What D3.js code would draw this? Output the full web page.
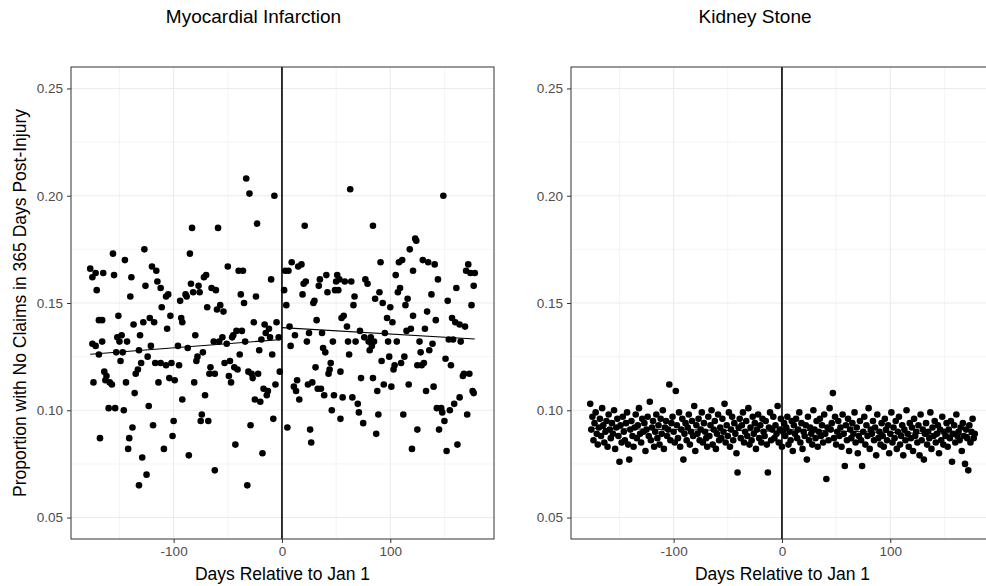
<!DOCTYPE html>
<html lang="en">
<head>
  <meta charset="UTF-8">
  <title>No claims after injury</title>
</head>
<style>
  body {
    margin: 0;
    background: #fff;
  }
  svg {
    display: block;
    font-family: "Liberation Sans", Arial, sans-serif;
  }
  .grid-major { stroke: #ebebeb; stroke-width: 1.1; }
  .grid-minor { stroke: #ebebeb; stroke-width: 0.55; }
  .axis .domain { display: none; }
  .axis line { stroke: #333; }
  .axis text { fill: #4d4d4d; font-size: 13.5px; font-family: "Liberation Sans", Arial, sans-serif; }
</style>
<body>
<svg width="986" height="586"></svg>
<script src="https://cdn.jsdelivr.net/npm/d3@7"></script>
<script>
  // myocardial infarction: day relative to Jan 1, share with no claims
  const miDays = [-156,-127,-145,-177,-172,-175,-165,-155,-139,-120,-116,-115,-126,-112,-171,-140,-107,-105,-94,-111,
    -151,-103,-169,-166,-137,-128,-122,-118,-106,-93,-92,-175,-172,-166,-152,-148,-150,-143,-131,-169,
    -153,-147,-132,-121,-96,-149,-130,-124,-117,-112,-107,-102,-95,-133,-135,-164,-162,-163,-159,-157,
    -174,-144,-114,-104,-99,-136,-92,-160,-154,-146,-123,-100,-119,-138,-168,-141,-101,-142,-109,-129,
    -125,-132,-33,-30,-7,-83,-59,-23,-85,-50,-40,-36,-10,-70,-72,-84,-77,-65,-61,-82,
    -76,-89,-88,-38,-24,-35,-69,-57,-60,-54,-26,-16,-12,-5,-80,-63,-58,-55,-45,-42,
    -37,-46,-51,-34,-19,-15,-11,-3,-87,-73,-39,-21,-9,-78,-79,-53,-48,-66,-67,-62,
    -44,-41,-49,-31,-28,-27,-22,-2,-47,-81,-6,-17,-13,-14,-71,-25,-20,-74,-75,-68,
    -29,-8,-43,-86,-18,-62,-32,63,21,84,9,3,6,18,15,91,20,22,2,19,
    35,41,34,51,50,53,58,64,42,49,52,77,79,90,86,67,30,29,4,66,
    93,57,55,32,60,7,72,12,25,37,76,80,82,85,83,81,8,23,47,61,
    68,38,40,62,92,45,31,44,43,54,14,11,13,24,28,33,36,16,39,48,
    56,65,70,73,84,94,88,46,54,71,75,89,87,5,26,27,149,123,124,118,
    108,111,130,135,141,105,121,144,172,170,174,178,109,107,161,177,138,116,114,100,
    153,175,134,121,97,102,142,157,160,164,169,119,115,132,95,98,106,127,139,154,
    158,165,128,136,99,113,110,104,103,125,129,131,151,156,167,168,173,101,117,133,
    140,176,177,164,159,143,147,148,155,112,171,150,125,145,120,152,162];
  const miRate = [0.173,0.175,0.170,0.166,0.164,0.162,0.164,0.163,0.162,0.167,0.165,0.160,0.158,0.157,0.156,0.153,0.153,0.154,0.151,0.148,
    0.144,0.144,0.142,0.142,0.140,0.141,0.143,0.141,0.138,0.143,0.141,0.131,0.130,0.132,0.134,0.135,0.132,0.132,0.135,0.126,
    0.127,0.127,0.128,0.130,0.130,0.123,0.122,0.125,0.122,0.122,0.121,0.122,0.121,0.119,0.117,0.118,0.116,0.114,0.113,0.112,
    0.113,0.113,0.113,0.115,0.114,0.108,0.105,0.101,0.101,0.100,0.102,0.095,0.093,0.092,0.087,0.087,0.088,0.082,0.082,0.078,
    0.070,0.065,0.208,0.201,0.200,0.185,0.185,0.187,0.173,0.167,0.165,0.165,0.161,0.163,0.162,0.159,0.158,0.157,0.156,0.155,
    0.155,0.154,0.153,0.154,0.153,0.150,0.148,0.149,0.147,0.146,0.141,0.140,0.138,0.141,0.135,0.132,0.132,0.134,0.135,0.137,
    0.137,0.134,0.131,0.132,0.133,0.136,0.134,0.134,0.129,0.127,0.126,0.128,0.126,0.125,0.123,0.122,0.123,0.120,0.117,0.117,
    0.120,0.119,0.116,0.118,0.117,0.115,0.117,0.118,0.113,0.113,0.112,0.110,0.109,0.107,0.107,0.105,0.104,0.098,0.095,0.095,
    0.093,0.096,0.084,0.079,0.080,0.072,0.065,0.203,0.186,0.186,0.169,0.165,0.165,0.168,0.167,0.169,0.159,0.160,0.156,0.154,
    0.161,0.163,0.158,0.163,0.160,0.161,0.160,0.160,0.155,0.156,0.156,0.161,0.159,0.155,0.152,0.153,0.151,0.150,0.149,0.149,
    0.150,0.144,0.143,0.142,0.139,0.139,0.137,0.135,0.136,0.136,0.134,0.132,0.134,0.132,0.130,0.128,0.130,0.132,0.132,0.132,
    0.132,0.129,0.127,0.126,0.123,0.122,0.120,0.119,0.117,0.118,0.114,0.111,0.109,0.112,0.113,0.110,0.110,0.105,0.107,0.107,
    0.106,0.106,0.103,0.115,0.115,0.112,0.109,0.100,0.096,0.099,0.094,0.098,0.089,0.092,0.091,0.085,0.200,0.180,0.179,0.175,
    0.169,0.170,0.170,0.169,0.168,0.163,0.165,0.161,0.168,0.165,0.164,0.164,0.157,0.155,0.157,0.158,0.154,0.152,0.149,0.148,
    0.151,0.149,0.146,0.144,0.143,0.141,0.142,0.143,0.141,0.140,0.139,0.138,0.137,0.138,0.136,0.132,0.132,0.132,0.131,0.133,
    0.133,0.132,0.127,0.128,0.125,0.125,0.122,0.121,0.119,0.121,0.121,0.122,0.124,0.121,0.116,0.117,0.117,0.111,0.112,0.109,
    0.111,0.109,0.108,0.106,0.103,0.101,0.101,0.099,0.100,0.098,0.098,0.095,0.091,0.091,0.082,0.081,0.084];

  // kidney stone: one value per day, from day -177 through day 178
  const ksFirstDay = -177;
  const ksRate = [
    0.103,0.091,0.097,0.086,0.094,0.099,0.089,0.084,0.092,0.096,
    0.088,0.101,0.093,0.085,0.090,0.095,0.083,0.098,0.091,0.087,
    0.094,0.089,0.100,0.082,0.092,0.096,0.088,0.076,0.093,0.085,
    0.097,0.090,0.086,0.094,0.099,0.084,0.077,0.091,0.095,0.088,
    0.083,0.092,0.098,0.087,0.093,0.101,0.089,0.085,0.096,0.090,
    0.094,0.081,0.091,0.097,0.088,0.104,0.086,0.092,0.095,0.083,
    0.090,0.098,0.087,0.093,0.084,0.096,0.089,0.100,0.082,0.092,
    0.095,0.088,0.091,0.112,0.086,0.094,0.097,0.090,0.085,0.109,
    0.093,0.087,0.099,0.083,0.091,0.096,0.077,0.089,0.094,0.086,
    0.092,0.098,0.084,0.090,0.095,0.088,0.102,0.081,0.093,0.089,
    0.096,0.086,0.091,0.099,0.085,0.094,0.090,0.087,0.083,0.097,
    0.088,0.093,0.100,0.084,0.091,0.095,0.082,0.089,0.098,0.086,
    0.092,0.087,0.096,0.090,0.103,0.085,0.093,0.088,0.099,0.083,
    0.091,0.097,0.086,0.094,0.089,0.080,0.071,0.092,0.096,0.087,
    0.093,0.099,0.085,0.090,0.095,0.088,0.101,0.084,0.092,0.086,
    0.097,0.089,0.094,0.082,0.091,0.098,0.087,0.093,0.085,0.096,
    0.090,0.088,0.095,0.084,0.071,0.092,0.099,0.086,0.091,0.097,
    0.087,0.093,0.089,0.102,0.085,0.091,0.096,0.083,0.090,0.094,
    0.088,0.092,0.097,0.084,0.090,0.086,0.095,0.081,0.093,0.089,
    0.096,0.087,0.091,0.099,0.085,0.094,0.082,0.090,0.088,0.093,
    0.077,0.097,0.086,0.092,0.089,0.084,0.100,0.091,0.087,0.095,
    0.083,0.090,0.096,0.088,0.093,0.085,0.098,0.089,0.068,0.092,
    0.086,0.101,0.091,0.094,0.108,0.087,0.097,0.084,0.090,0.095,
    0.088,0.092,0.083,0.098,0.089,0.074,0.093,0.086,0.096,0.081,
    0.091,0.087,0.094,0.089,0.099,0.085,0.092,0.080,0.088,0.095,
    0.086,0.074,0.090,0.097,0.084,0.093,0.088,0.101,0.082,0.091,
    0.089,0.095,0.086,0.092,0.079,0.098,0.087,0.090,0.084,0.094,
    0.088,0.083,0.096,0.091,0.086,0.093,0.080,0.089,0.099,0.085,
    0.092,0.087,0.095,0.082,0.090,0.097,0.084,0.088,0.093,0.079,
    0.091,0.086,0.100,0.089,0.083,0.094,0.087,0.092,0.081,0.096,
    0.088,0.090,0.085,0.093,0.079,0.098,0.086,0.091,0.077,0.089,
    0.094,0.084,0.090,0.087,0.099,0.082,0.092,0.088,0.095,0.085,
    0.089,0.093,0.080,0.091,0.086,0.097,0.084,0.090,0.088,0.094,
    0.083,0.091,0.087,0.095,0.076,0.089,0.093,0.085,0.098,0.088,
    0.090,0.086,0.092,0.081,0.094,0.088,0.075,0.091,0.087,0.072,
    0.093,0.085,0.090,0.096,0.087,0.089];
  const ksDays = ksRate.map((v, i) => ksFirstDay + i);

  // linear fits either side of Jan 1: [start, end] of each segment
  const fitDays = [[-177, 0], [0, 178]];
  const miFitRate = [[0.1261, 0.1330], [0.1385, 0.1332]];
  const ksFitRate = [[0.0916, 0.0902], [0.0910, 0.0886]];

  const xTicks = [-100, 0, 100];
  const xMinor = [-150, -50, 50, 150];
  const yTicks = [0.05, 0.10, 0.15, 0.20, 0.25];
  const yMinor = [0.075, 0.125, 0.175, 0.225];

  const panelW = 423;
  const panelH = 472;
  const panelTop = 67;

  const panels = [
    {title: 'Myocardial Infarction', days: miDays, rate: miRate, fit: miFitRate, left: 71, titleX: 253.5},
    {title: 'Kidney Stone', days: ksDays, rate: ksRate, fit: ksFitRate, left: 571, titleX: 755}
  ];

  const x = d3.scaleLinear().domain([-194.75, 195.75]).range([0, panelW]);
  const y = d3.scaleLinear().domain([0.04, 0.26]).range([panelH, 0]);

  const svg = d3.select('svg');
  svg.append('rect').attr('width', 986).attr('height', 586).style('fill', '#fff');

  panels.forEach(function(p) {
    const g = svg.append('g').attr('transform', 'translate(' + p.left + ',' + panelTop + ')');

    // grid
    g.selectAll('.gx-minor').data(xMinor).enter().append('line').attr('class', 'grid-minor')
      .attr('x1', d => x(d)).attr('x2', d => x(d)).attr('y1', 0).attr('y2', panelH);
    g.selectAll('.gy-minor').data(yMinor).enter().append('line').attr('class', 'grid-minor')
      .attr('x1', 0).attr('x2', panelW).attr('y1', d => y(d)).attr('y2', d => y(d));
    g.selectAll('.gx-major').data(xTicks).enter().append('line').attr('class', 'grid-major')
      .attr('x1', d => x(d)).attr('x2', d => x(d)).attr('y1', 0).attr('y2', panelH);
    g.selectAll('.gy-major').data(yTicks).enter().append('line').attr('class', 'grid-major')
      .attr('x1', 0).attr('x2', panelW).attr('y1', d => y(d)).attr('y2', d => y(d));

    // Jan 1 marker
    g.append('line')
      .attr('x1', x(0)).attr('x2', x(0)).attr('y1', 0).attr('y2', panelH)
      .style('stroke', '#000').style('stroke-width', 1.6);

    // points
    g.selectAll('circle').data(p.days.map((d, i) => [d, p.rate[i]])).enter().append('circle')
      .attr('cx', d => x(d[0])).attr('cy', d => y(d[1])).attr('r', 3.3)
      .style('fill', '#000');

    // fitted lines
    g.selectAll('.fit').data(p.fit).enter().append('line').attr('class', 'fit')
      .attr('x1', (d, i) => x(fitDays[i][0])).attr('x2', (d, i) => x(fitDays[i][1]))
      .attr('y1', d => y(d[0])).attr('y2', d => y(d[1]))
      .style('stroke', '#000').style('stroke-width', 1.1);

    g.append('rect').attr('width', panelW).attr('height', panelH)
      .style('fill', 'none').style('stroke', '#333').style('stroke-width', 1);

    // axes
    g.append('g').attr('class', 'axis').attr('transform', 'translate(0,' + panelH + ')')
      .call(d3.axisBottom(x).tickValues(xTicks).tickFormat(d => String(d)).tickSize(4).tickPadding(3));
    g.append('g').attr('class', 'axis')
      .call(d3.axisLeft(y).tickValues(yTicks).tickFormat(d => d.toFixed(2)).tickSize(4).tickPadding(4));

    g.append('text').attr('x', panelW / 2).attr('y', panelH + 41)
      .attr('text-anchor', 'middle').style('font-size', '17.5px').style('fill', '#000')
      .text('Days Relative to Jan 1');

    svg.append('text').attr('x', p.titleX).attr('y', 23)
      .attr('text-anchor', 'middle').style('font-size', '19px').style('fill', '#000')
      .text(p.title);
  });

  svg.append('text')
    .attr('transform', 'translate(25.5,' + (panelTop + panelH / 2) + ') rotate(-90)')
    .attr('text-anchor', 'middle').style('font-size', '17.5px').style('fill', '#000')
    .text('Proportion with No Claims in 365 Days Post-Injury');
</script>
</body>
</html>
